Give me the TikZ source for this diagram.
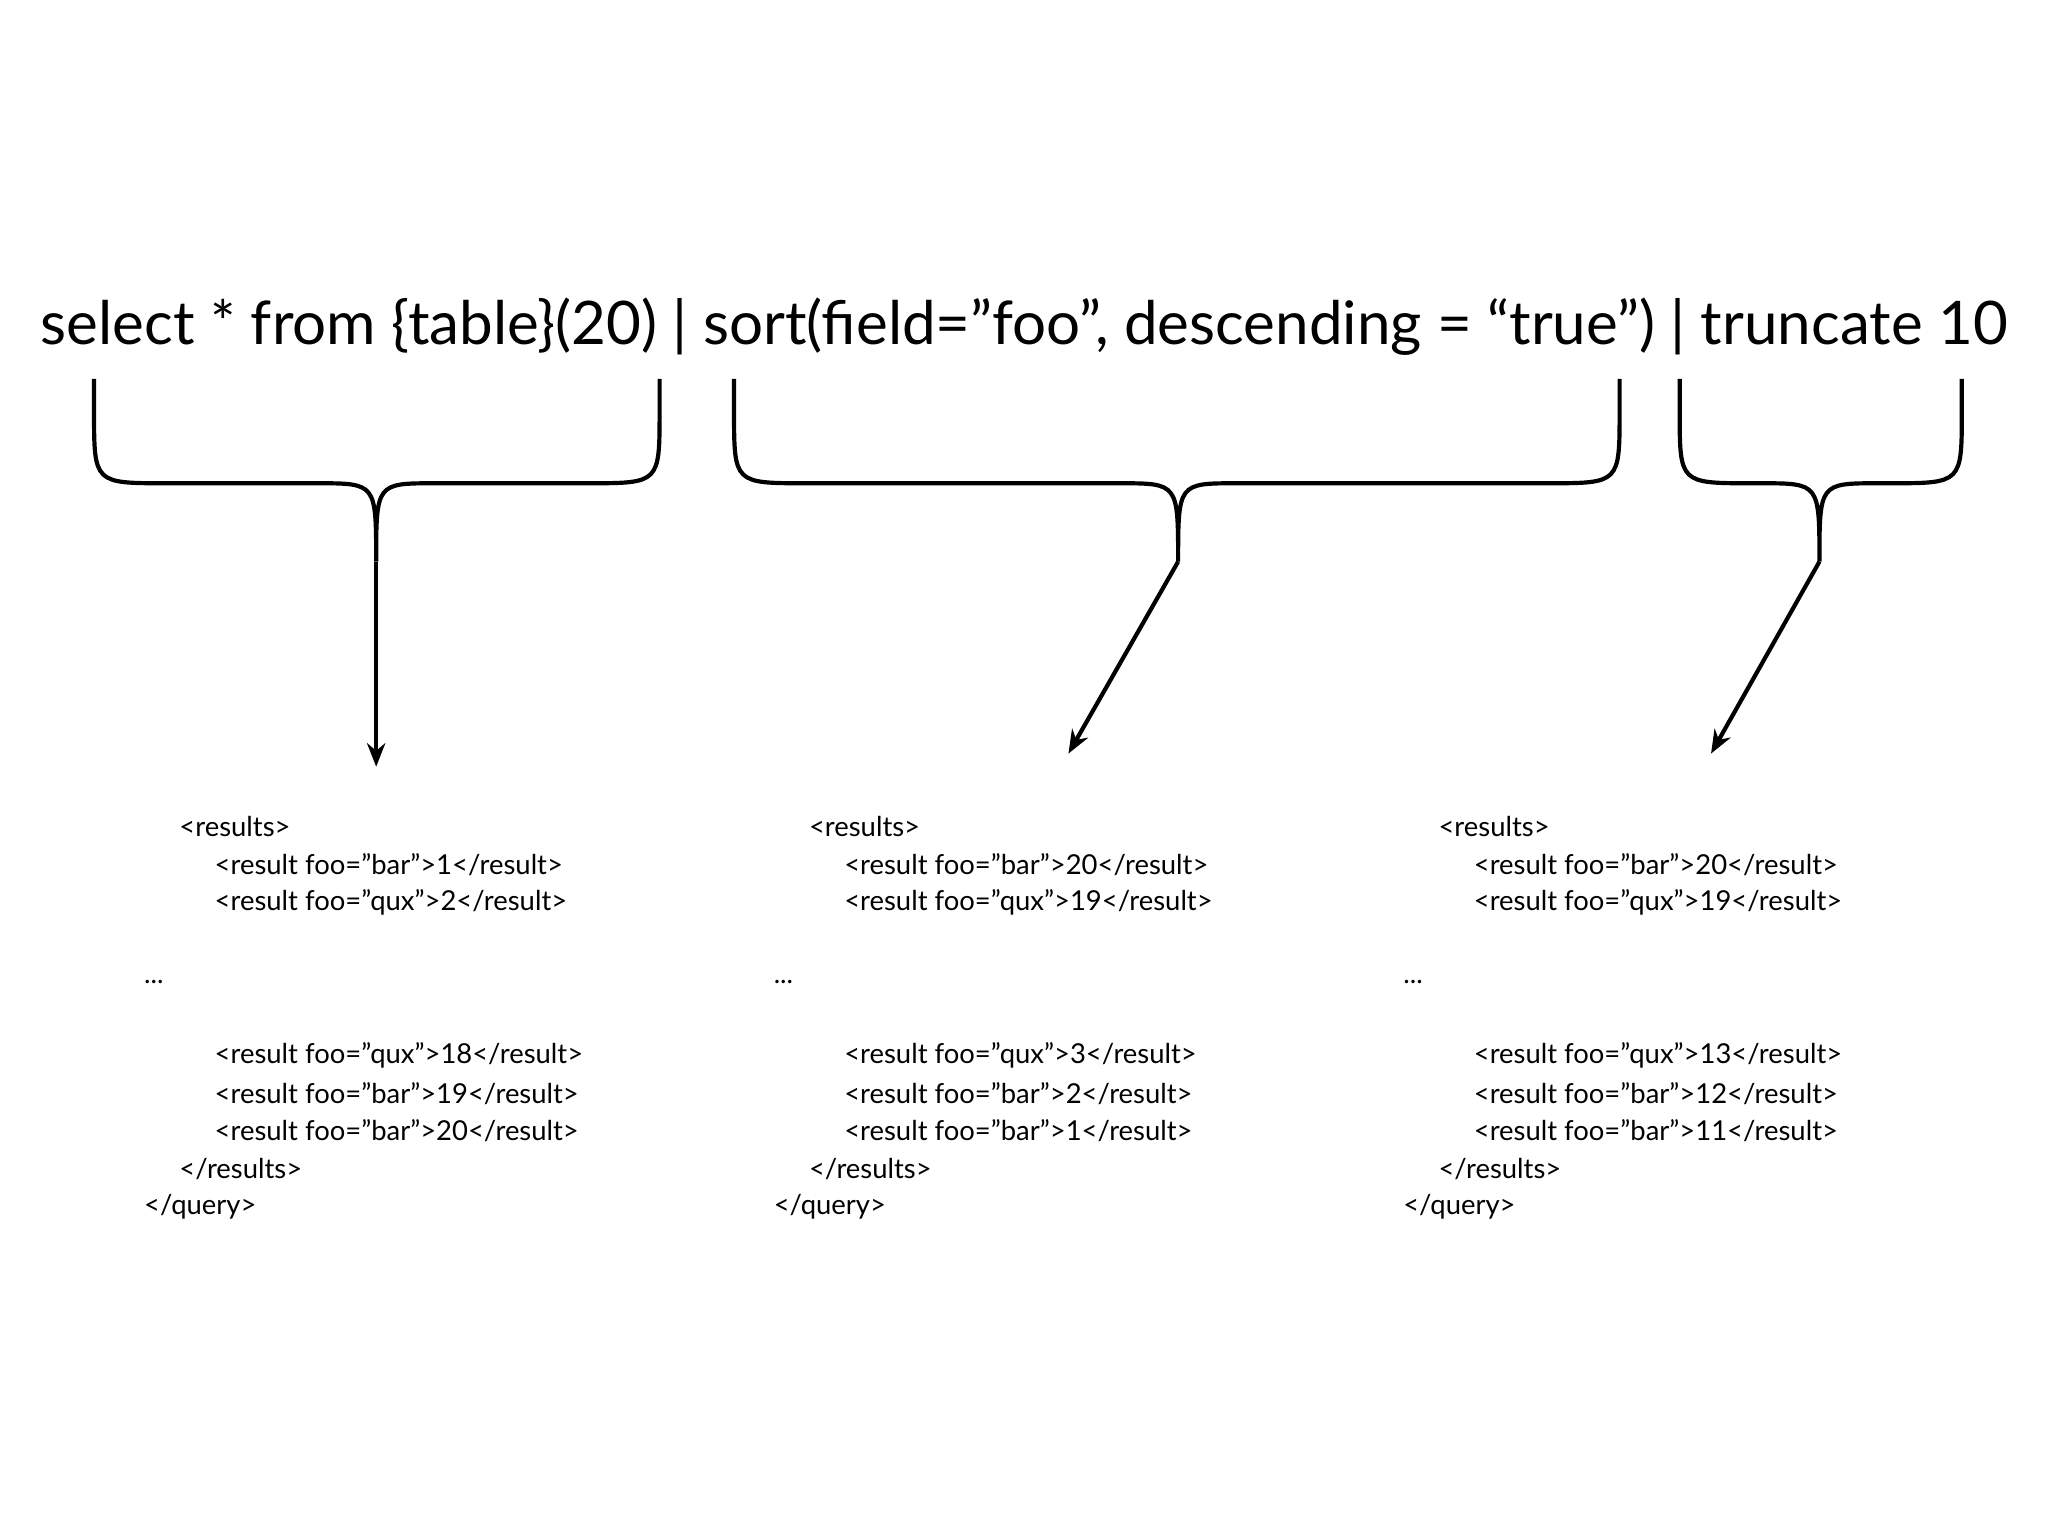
\documentclass[tikz,border=0pt]{standalone}
\usepackage{fontspec}
\setmainfont{Lato}
\usetikzlibrary{arrows.meta}
\begin{document}
\begin{tikzpicture}[x=0.5pt,y=-0.5pt,
  brace/.style={line width=1.6pt},
  arr/.style={line width=1.6pt,-{Stealth[length=9pt,width=7pt]}},
  code/.style={anchor=west,inner sep=0pt,font=\fontsize{10.5}{12}\selectfont},
  title/.style={inner sep=0pt,font=\fontsize{23}{26}\selectfont}]
\useasboundingbox (0,0) rectangle (1568,1176);
\node[title] (q) at (784,250) {select * from \{table\}(20) | sort(field=”foo”, descending = “true”) | truncate 10};
\foreach \L/\T/\R/\n in {72/288/505/a,562/902/1240/b,1286/1393/1502/c}{
  \draw[brace] (\L,290) -- (\L,315) .. controls (\L,370) .. ({\L+55},370) -- ({\T-45},370) .. controls (\T,370) .. (\T,430)
    .. controls (\T,370) .. ({\T+45},370) -- ({\R-55},370) .. controls (\R,370) .. (\R,315) -- (\R,290);
  \coordinate (t\n) at (\T,430);
}
\coordinate (ea) at (288,587);
\coordinate (eb) at (818,577);
\coordinate (ec) at (1310,577);
\draw[arr] (ta) -- (ea);
\draw[arr] (tb) -- (eb);
\draw[arr] (tc) -- (ec);
\foreach \dx/\n/\a/\b/\c/\d/\e in {0/1/1/2/18/19/20,482/2/20/19/3/2/1,964/3/20/19/13/12/11}{
  \node[code] (r\n) at ({137+\dx},633) {<results>};
  \node[code] (ra\n) at ({164+\dx},662) {<result foo=”bar”>\a</result>};
  \node[code] (rb\n) at ({164+\dx},691) {<result foo=”qux”>\b</result>};
  \node[code] (dots\n) at ({110+\dx},752) {...};
  \node[code] (rc\n) at ({164+\dx},808) {<result foo=”qux”>\c</result>};
  \node[code] (rd\n) at ({164+\dx},837) {<result foo=”bar”>\d</result>};
  \node[code] (re\n) at ({164+\dx},866) {<result foo=”bar”>\e</result>};
  \node[code] (rs\n) at ({137+\dx},895) {</results>};
  \node[code] (qe\n) at ({110+\dx},924) {</query>};
}
\end{tikzpicture}
\end{document}
